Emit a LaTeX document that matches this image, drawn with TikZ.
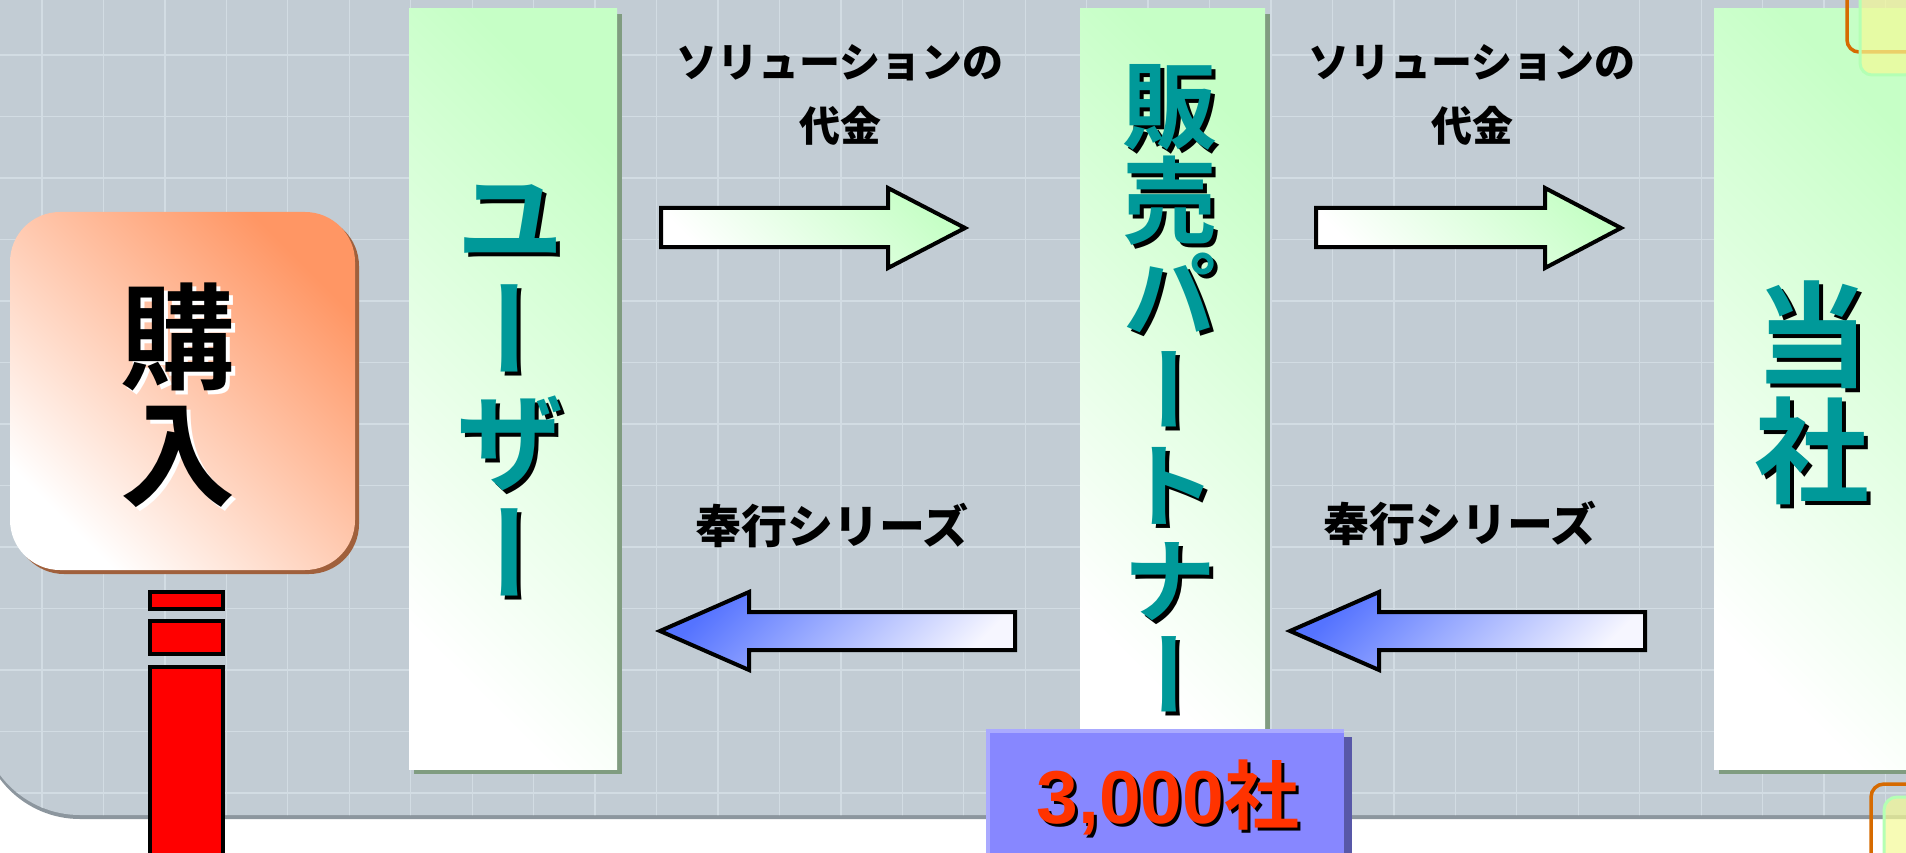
\documentclass[tikz,border=0pt]{standalone}
\usepackage{fontspec}
\usetikzlibrary{shadows}
\newfontfamily\jpb{Noto Sans CJK JP Black}
\newfontfamily\jpv{Noto Sans CJK JP Bold}[RawFeature=+vert]
\newfontfamily\arialf{Liberation Sans}
\definecolor{panel}{RGB}{194,204,212}
\definecolor{gridc}{RGB}{210,220,227}
\definecolor{panelsh}{RGB}{140,150,158}
\definecolor{colgreen}{RGB}{198,255,198}
\definecolor{colsh}{RGB}{128,156,128}
\definecolor{tealt}{RGB}{0,153,153}
\definecolor{orangeT}{RGB}{255,150,100}
\definecolor{boxsh}{RGB}{160,96,60}
\definecolor{arrowblue}{RGB}{85,115,255}
\definecolor{arrowwhite}{RGB}{246,246,255}
\definecolor{decoorange}{RGB}{214,106,0}
\definecolor{decoyellow}{RGB}{245,250,150}
\definecolor{decogreen}{RGB}{180,255,180}
\definecolor{bluebox}{RGB}{135,135,255}
\definecolor{blueboxl}{RGB}{170,170,255}
\definecolor{blueboxd}{RGB}{88,88,168}
\definecolor{numred}{RGB}{255,51,0}
\definecolor{barred}{RGB}{255,0,0}
\begin{document}
\begin{tikzpicture}[x=1pt,y=-1pt,
  colbox/.style={rectangle, inner sep=0pt, top color=colgreen, bottom color=white, shading angle=-45,
     general shadow={fill=colsh, shadow xshift=5pt, shadow yshift=-5pt}},
  buybox/.style={rectangle, inner sep=0pt, rounded corners=50pt, top color=orangeT, bottom color=white, shading angle=-45,
     general shadow={fill=boxsh, shadow xshift=4pt, shadow yshift=-4pt}},
  vtext/.style={align=center, inner sep=0pt, text=tealt},
  tshadow/.style={xshift=4pt, yshift=-4pt},
  lbl/.style={align=center, inner sep=0pt, text=black, font=\jpb\fontsize{41}{64}\selectfont},
  lbl2/.style={align=center, inner sep=0pt, text=black, font=\jpb\fontsize{46}{46}\selectfont},
  blockarrow/.style={draw=black, line width=4pt, line join=miter},
  redbar/.style={draw=black, line width=4pt, fill=barred},
  gridline/.style={draw=gridc, line width=1.3pt}]
\useasboundingbox (0,0) rectangle (1906,853);
\fill[white] (0,0) rectangle (1906,853);
% background panel
\fill[panelsh] (-20,-30) -- (-20,719) arc[start angle=180,end angle=90,radius=100] -- (1940,819) -- (1940,-30) -- cycle;
\fill[panel] (-20,-30) -- (-20,715) arc[start angle=180,end angle=90,radius=100] -- (1940,815) -- (1940,-30) -- cycle;
\begin{scope}
  \clip (-20,-30) -- (-20,715) arc[start angle=180,end angle=90,radius=100] -- (1940,815) -- (1940,-30) -- cycle;
  \foreach \i in {0,...,31} \draw[gridline] ({42+61.45*\i},-10) -- ++(0,900);
  \foreach \j in {0,...,13} \draw[gridline] (-10,{55+61.5*(\j-1)}) -- ++(2000,0);
\end{scope}
% columns
\node[colbox, minimum width=208pt, minimum height=760pt] (user) at (513,389) {};
\node[colbox, minimum width=185pt, minimum height=740pt] (partner) at (1172.5,379) {};
\node[colbox, minimum width=210pt, minimum height=760pt] (company) at (1819,389) {};
% arrows
\path[blockarrow, top color=colgreen, bottom color=white, shading angle=-45]
  (661,208) -- (888,208) -- (888,188) -- (965,228) -- (888,268) -- (888,247) -- (661,247) -- cycle;
\path[blockarrow, top color=colgreen, bottom color=white, shading angle=-45]
  (1316,208) -- (1545,208) -- (1545,188) -- (1621,228) -- (1545,268) -- (1545,247) -- (1316,247) -- cycle;
\path[blockarrow, top color=arrowblue, bottom color=arrowwhite, shading angle=45]
  (660,631) -- (749,592) -- (749,612) -- (1015,612) -- (1015,650) -- (749,650) -- (749,670) -- cycle;
\path[blockarrow, top color=arrowblue, bottom color=arrowwhite, shading angle=45]
  (1290,631) -- (1379,592) -- (1379,612) -- (1645,612) -- (1645,650) -- (1379,650) -- (1379,670) -- cycle;
% labels
\node[lbl] (pay1) at (840,95) {ソリューションの\\代金};
\node[lbl] (pay2) at (1472,95) {ソリューションの\\代金};
\node[lbl2] (prod1) at (832,526) {奉行シリーズ};
\node[lbl2] (prod2) at (1460,524) {奉行シリーズ};
% purchase box
\node[buybox, minimum width=345pt, minimum height=358pt] (buy) at (182.5,391) {};
\node[align=center, inner sep=0pt, text=white, font=\jpv\fontsize{115}{117}\selectfont, tshadow] (buytextsh) at (178,395) {購\\入};
\node[align=center, inner sep=0pt, text=black, font=\jpv\fontsize{115}{117}\selectfont] (buytext) at (178,395) {購\\入};
% red bars
\draw[redbar] (150,592) rectangle (223,609);
\draw[redbar] (150,621) rectangle (223,654);
\draw[redbar] (150,667) rectangle (223,900);
% column texts
\node[vtext, text=black, font=\jpv\fontsize{110}{112}\selectfont, tshadow] (usersh) at (510,390) {ユ\\ー\\ザ\\ー};
\node[vtext, font=\jpv\fontsize{110}{112}\selectfont] (usertext) at (510,390) {ユ\\ー\\ザ\\ー};
\node[vtext, text=black, font=\jpv\fontsize{95}{95}\selectfont, tshadow] (partnersh) at (1170,388) {販\\売\\パ\\ー\\ト\\ナ\\ー};
\node[vtext, font=\jpv\fontsize{95}{95}\selectfont] (partnertext) at (1170,388) {販\\売\\パ\\ー\\ト\\ナ\\ー};
\node[vtext, text=black, font=\jpv\fontsize{115}{116}\selectfont, tshadow] (companysh) at (1812,393) {当\\社};
\node[vtext, font=\jpv\fontsize{115}{116}\selectfont] (companytext) at (1812,393) {当\\社};
% decorations (top right)
\draw[decoorange, line width=3.5pt] (1847,-5) -- (1847,40) arc[start angle=180,end angle=90,radius=12] -- (1915,52);
\path[fill=decoyellow, fill opacity=0.7, draw=decogreen, line width=3pt]
  (1860,-10) -- (1860,63) arc[start angle=180,end angle=90,radius=12] -- (1920,75) -- (1920,-10) -- cycle;
% decorations (bottom right)
\draw[decoorange, line width=3.5pt] (1871,870) -- (1871,797) arc[start angle=180,end angle=270,radius=13] -- (1915,784);
\path[fill=decoyellow, fill opacity=0.7, draw=decogreen, line width=3pt]
  (1884,870) -- (1884,810) arc[start angle=180,end angle=270,radius=13] -- (1920,797) -- (1920,870) -- cycle;
% 3,000 box
\fill[blueboxd] (994,737) rectangle (1352,870);
\fill[blueboxl] (986,729) rectangle (1344,870);
\fill[bluebox] (990,733) rectangle (1344,870);
\node[inner sep=0pt, text=black, font=\fontsize{75}{75}\selectfont, xshift=3pt, yshift=-3pt] (countsh) at (1168,797) {\arialf\bfseries 3,000\jpb 社};
\node[inner sep=0pt, text=numred, font=\fontsize{75}{75}\selectfont] (count) at (1168,797) {\arialf\bfseries 3,000\jpb 社};
\end{tikzpicture}
\end{document}
